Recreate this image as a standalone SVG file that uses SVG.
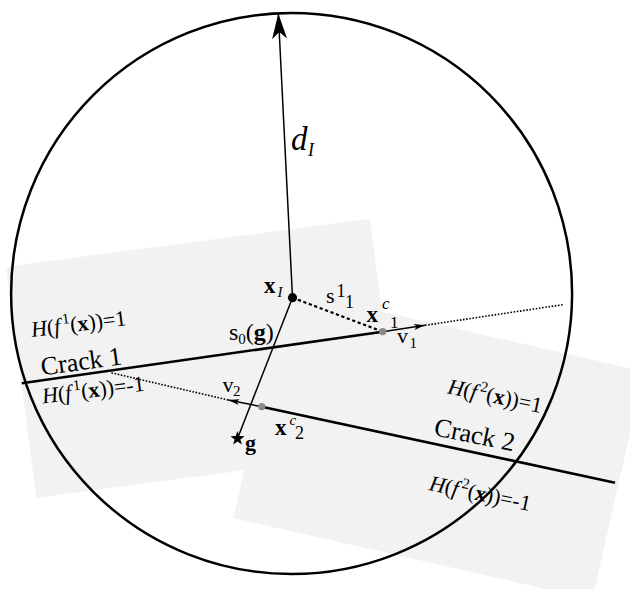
<svg xmlns="http://www.w3.org/2000/svg" width="630" height="589" viewBox="0 0 630 589">
<defs>
<style>
.t{font-family:"Liberation Serif","Times New Roman",serif;fill:#000}
.i{font-style:italic}
.b{font-weight:bold}
.region{fill:#f2f2f2;stroke:none}
.crack{stroke:#000;stroke-width:2.6;fill:none;stroke-linecap:butt}
.thin{stroke:#000;stroke-width:1.5;fill:none}
.dots{stroke:#000;stroke-width:1.6;stroke-dasharray:1.6 1.6;fill:none}
.dash{stroke:#000;stroke-width:2.2;stroke-dasharray:3.2 2.6;fill:none}
.cdot{fill:#8a8a8a}
</style>
<marker id="bigArrow" markerUnits="userSpaceOnUse" markerWidth="30" markerHeight="20" viewBox="-24 -8 26 16" refX="0" refY="0" orient="auto">
<path d="M0,0 L-22,-6.5 L-16,0 L-22,6.5 Z" fill="#000"/>
</marker>
<marker id="smallArrow" markerUnits="userSpaceOnUse" markerWidth="14" markerHeight="10" viewBox="-12 -5 13 10" refX="0" refY="0" orient="auto">
<path d="M0,0 L-11,-3 L-8.5,0 L-11,3 Z" fill="#000"/>
</marker>
</defs>

<g id="region1"><rect class="region" x="0" y="0" width="367" height="233" transform="translate(6,266.7) rotate(-7.5)"/></g>
<g id="region2"><rect class="region" x="0" y="0" width="368" height="234" transform="translate(285.2,289.8) rotate(12.8)"/></g>

<g id="crack1"><line class="crack" x1="21.7" y1="383.3" x2="382.7" y2="331.7"/></g>
<g id="crack2"><line class="crack" x1="261.7" y1="406.7" x2="615" y2="482.7"/></g>

<g id="connectors">
<line class="thin" x1="292.5" y1="297.7" x2="278.3" y2="13.5" marker-end="url(#bigArrow)"/>
<line class="thin" x1="292.5" y1="297.7" x2="238.5" y2="436"/>
<line class="dash" x1="292.5" y1="297.7" x2="382.7" y2="331.7"/>
<line class="thin" stroke-width="1.3" x1="382.7" y1="331.7" x2="425" y2="325.3" marker-end="url(#smallArrow)"/>
<line class="dots" x1="425" y1="325.3" x2="564" y2="304.5"/>
<line class="thin" stroke-width="1.3" x1="261.7" y1="406.7" x2="228.3" y2="400" marker-end="url(#smallArrow)"/>
<line class="dots" x1="228.3" y1="400" x2="110" y2="372.5"/>
</g>

<g id="labels-regions">
<text class="t" font-size="22" transform="translate(32,337) rotate(-7.2)"><tspan class="i">H</tspan>(<tspan class="i">f</tspan><tspan dx="2.5" dy="-9" font-size="15">1</tspan><tspan dy="9">(</tspan><tspan class="b">x</tspan>))=1</text>
<text class="t" font-size="26" transform="translate(42,375.5) rotate(-8)">Crack 1</text>
<text class="t" font-size="22" transform="translate(43,403.5) rotate(-7.2)"><tspan class="i">H</tspan>(<tspan class="i">f</tspan><tspan dx="2.5" dy="-9" font-size="15">1</tspan><tspan dy="9">(</tspan><tspan class="b">x</tspan>))=-1</text>
<text class="t" font-size="22" transform="translate(446.7,393.3) rotate(11.8)"><tspan class="i">H</tspan>(<tspan class="i">f</tspan><tspan dx="2.5" dy="-9" font-size="15">2</tspan><tspan dy="9">(</tspan><tspan class="b">x</tspan>))=1</text>
<text class="t" font-size="26" transform="translate(433,435) rotate(11.5)">Crack 2</text>
<text class="t" font-size="22" transform="translate(428.3,490) rotate(11.8)"><tspan class="i">H</tspan>(<tspan class="i">f</tspan><tspan dx="2.5" dy="-9" font-size="15">2</tspan><tspan dy="9">(</tspan><tspan class="b">x</tspan>))=-1</text>
</g>

<g id="domain-circle"><circle cx="291.6" cy="293.5" r="280.5" fill="none" stroke="#000" stroke-width="2.5"/></g>

<g id="xI">
<circle cx="292.5" cy="297.7" r="4.6" fill="#000"/>
<text class="t b" x="264" y="292.5" font-size="23">x</text>
<text class="t i" x="277.5" y="297" font-size="15">I</text>
</g>
<g id="dI-label">
<text class="t i" x="291" y="150" font-size="33">d</text>
<text class="t i" x="308" y="156" font-size="18">I</text>
</g>
<g id="s11-label">
<text class="t" x="326" y="303.3" font-size="22">s</text>
<text class="t" x="336.5" y="297" font-size="18">1</text>
<text class="t" x="345" y="308" font-size="18">1</text>
</g>
<g id="xc1">
<circle class="cdot" cx="382.7" cy="331.7" r="3.6"/>
<text class="t b" x="366.5" y="322" font-size="23">x</text>
<text class="t i" x="382" y="309" font-size="17">c</text>
<text class="t" x="390" y="327.5" font-size="17">1</text>
</g>
<g id="v1-label">
<text class="t" x="397" y="343" font-size="22">v</text>
<text class="t" x="409.5" y="347.5" font-size="15">1</text>
</g>
<g id="s0-label">
<text class="t" font-size="24" x="229" y="340">s<tspan font-size="15" dy="4">0</tspan><tspan dy="-4">(</tspan><tspan class="b">g</tspan>)</text>
</g>
<g id="v2-label">
<text class="t" x="222.5" y="392" font-size="22">v</text>
<text class="t" x="233" y="395.5" font-size="15">2</text>
</g>
<g id="xc2">
<circle class="cdot" cx="261.7" cy="406.7" r="3.6"/>
<text class="t b" x="275" y="435" font-size="23">x</text>
<text class="t i" x="289.5" y="425" font-size="15">c</text>
<text class="t" x="295" y="439" font-size="18">2</text>
</g>
<g id="g">
<path d="M0,-7.5 L1.76,-2.43 L7.13,-2.32 L2.85,0.93 L4.41,6.07 L0,3 L-4.41,6.07 L-2.85,0.93 L-7.13,-2.32 L-1.76,-2.43 Z" transform="translate(237.5,438.5)" fill="#000"/>
<text class="t b" x="245" y="450" font-size="22">g</text>
</g>
</svg>
